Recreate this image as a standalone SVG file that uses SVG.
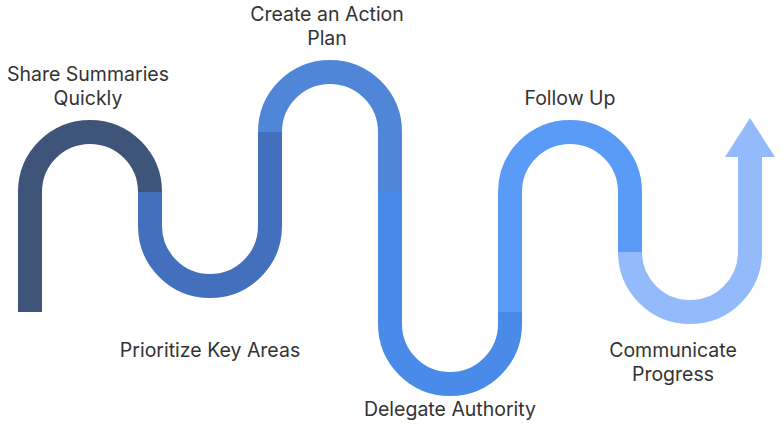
<svg xmlns="http://www.w3.org/2000/svg" width="784" height="426" viewBox="0 0 784 426">
<style>
.s{fill:none;stroke-width:24;stroke-linecap:butt}
text{font-family:Inter,"Liberation Sans",sans-serif;font-size:19.5px;fill:#333;text-anchor:middle}
</style>
<rect width="784" height="426" fill="#fff"/>
<g id="connectors">
<path class="s" stroke="#3e5579" d="M30,312 V192 A60,60 0 0 1 150,192"/>
<path class="s" stroke="#4270bd" d="M150,192 V226 A60,60 0 0 0 270,226 V132"/>
<path class="s" stroke="#4f86d8" d="M270,132 A60,60 0 0 1 390,132 V192"/>
<path class="s" stroke="#4a8ae8" d="M390,192 V324 A60,60 0 0 0 510,324 V312"/>
<path class="s" stroke="#5b9bf8" d="M510,312 V192 A60,60 0 0 1 630,192 V252"/>
<path class="s" stroke="#93bbfb" d="M630,252 A60,60 0 0 0 750,252 V155"/>
<polygon fill="#93bbfb" points="725,157 750,118 775,157"/>
</g>
<g id="n1"><text x="88" y="81">Share Summaries</text><text x="88" y="105">Quickly</text></g>
<g id="n2"><text x="210" y="357">Prioritize Key Areas</text></g>
<g id="n3"><text x="327" y="21">Create an Action</text><text x="327" y="45">Plan</text></g>
<g id="n4"><text x="450" y="416">Delegate Authority</text></g>
<g id="n5"><text x="570" y="105">Follow Up</text></g>
<g id="n6"><text x="673" y="357">Communicate</text><text x="673" y="381">Progress</text></g>
</svg>
